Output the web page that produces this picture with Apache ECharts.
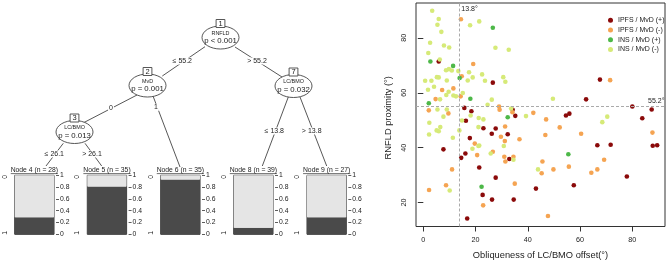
<!DOCTYPE html>
<html>
<head>
<meta charset="utf-8">
<style>
  html, body { margin: 0; padding: 0; background: #fff; }
  #main { width: 669px; height: 265px; }
</style>
</head>
<body>
<div id="main"></div>
<script src="https://cdn.jsdelivr.net/npm/echarts@6/dist/echarts.min.js"></script>
<script>
  // --- tree data ---
  var innerIds = [1, 2, 3, 7];
  var innerVars = ['RNFLD', 'MvD', 'LC/BMO', 'LC/BMO'];
  var innerP = ['p < 0.001', 'p = 0.001', 'p = 0.013', 'p = 0.032'];
  var edgeLabels = ['\u2264 55.2', '> 55.2', '0', '1', '\u2264 26.1', '> 26.1', '\u2264 13.8', '> 13.8'];
  var leafIds = [4, 5, 6, 8, 9];
  var leafN = [28, 35, 35, 39, 27];
  var leafProp1 = [0.29, 0.81, 0.93, 0.11, 0.29];

  // --- scatter data: [obliqueness, RNFLD proximity] ---
  var ipfsPos = [[5.9,71.4],[26.6,63.7],[62.3,57.6],[67.6,64.8],[80.0,55.0],[87.4,53.9],[15.7,54.5],[18.4,53.3],
    [34.2,53.8],[35.2,51.6],[54.6,51.7],[55.9,52.4],[83.8,50.7],[16.3,49.8],[23.0,47.1],[27.7,47.0],[26.2,45.1],
    [32.3,44.9],[17.8,43.5],[7.7,39.4],[16.1,37.9],[14.5,36.3],[32.9,35.9],[21.4,32.8],[27.7,29.1],[22.7,22.8],
    [26.3,21.1],[34.6,21.1],[16.8,14.2],[43.1,25.1],[57.6,26.3],[66.6,40.9],[71.7,41.1],[77.9,29.5],[87.8,40.7],[89.5,40.9]];
  var ipfsNeg = [[14.4,86.8],[19.1,70.5],[14.7,66.0],[11.5,61.6],[7.2,61.0],[14.3,58.7],[4.7,57.7],[71.5,64.6],
    [2.1,53.6],[9.6,52.5],[29.0,55.0],[29.2,53.8],[34.1,52.9],[42.1,52.7],[47.0,50.3],[31.3,47.7],[52.2,47.4],
    [19.7,41.5],[20.6,37.3],[26.6,38.5],[29.7,44.0],[31.2,42.4],[36.8,43.1],[31.0,36.7],[31.4,35.0],[34.5,36.7],
    [11.0,32.1],[8.7,26.3],[2.2,24.6],[22.9,19.0],[35.0,26.9],[47.7,15.1],[46.7,44.6],[45.6,35.0],[45.3,30.7],
    [49.8,32.1],[55.7,33.1],[60.4,45.1],[69.2,35.6],[66.6,32.1],[64.3,30.9],[87.7,45.5]];
  var insPos = [[26.6,83.7],[2.7,71.4],[11.4,69.8],[13.9,65.4],[2.1,56.2],[18.0,57.8],[32.3,51.1],[55.5,37.6],[22.3,25.8]];
  var insNeg = [[3.4,89.9],[5.9,86.9],[5.4,84.8],[6.9,82.2],[17.9,84.6],[21.4,86.0],[2.6,78.2],[7.9,77.2],[9.9,76.5],
    [1.9,74.5],[27.6,76.4],[32.7,75.7],[6.3,72.1],[9.8,68.6],[8.7,68.2],[10.9,68.1],[13.4,67.9],[17.5,67.5],[22.5,66.7],
    [5.2,65.7],[5.9,65.6],[18.9,65.6],[30.6,65.7],[0.7,64.4],[3.1,64.4],[9.0,64.5],[17.0,64.5],[23.6,64.4],[31.4,64.0],
    [4.1,62.2],[1.8,61.1],[9.7,60.4],[8.8,59.2],[11.5,59.0],[12.5,58.7],[15.1,59.9],[6.4,57.6],[26.2,57.5],[49.6,57.8],
    [5.4,53.9],[9.0,53.9],[18.1,51.7],[24.6,55.6],[33.6,54.3],[39.3,51.5],[68.5,49.3],[70.4,51.3],[23.0,50.3],[6.5,47.5],
    [21.1,47.5],[2.2,44.8],[5.1,46.3],[5.9,46.0],[11.3,43.6],[13.8,46.3],[21.4,40.8],[21.1,40.6],[18.8,39.6],[25.8,37.9],
    [30.8,40.6],[34.5,35.6],[10.1,24.4],[43.9,32.1],[2.3,49.1],[7.7,51.3],[14.8,49.9],[21.2,50.8]];
  var xTicks = [0, 20, 40, 60, 80];
  var yTicks = [20, 40, 60, 80];
  var cutX = 13.8, cutY = 55.2;

  // --- layout of the tree (pixels) ---
  var innerPos = [[220.5, 37.5], [147.5, 85.5], [74.5, 132], [293.5, 86]];
  var edgeLines = [[205, 46.7, 162.3, 76], [235, 47, 282, 77], [137, 95, 83, 123], [153, 96, 180, 167],
    [63.3, 143.3, 46, 166], [85, 143.3, 101.7, 166], [288.3, 97, 262.3, 166], [300, 97, 326.7, 166]];
  var edgeLabelPos = [[182.3, 61], [257, 61], [111, 107.7], [156, 107.3], [54.3, 154], [92, 154], [274.3, 131], [311.7, 131]];
  var leafLeft = [14.7, 87.3, 160.7, 233.7, 307];
  var leafW = 39.3, leafTop = 175.3, leafH = 59;

  var FONT = '"Liberation Sans", Arial, sans-serif';
  var LINE = '#444';
  var DARK = '#4a4a4a', LIGHT = '#e5e5e5';

  var chart = echarts.init(document.getElementById('main'), null, { renderer: 'canvas' });

  function txt(x, y, s, size, extra) {
    var st = { x: x, y: y, text: s, font: size + 'px ' + FONT, fill: '#222',
      align: 'center', verticalAlign: 'middle', textAlign: 'center', textVerticalAlign: 'middle' };
    for (var k in extra) st[k] = extra[k];
    return { type: 'text', z: 5, style: st };
  }

  var graphics = [];
  edgeLines.forEach(function (e) {
    graphics.push({ type: 'line', z: 1, shape: { x1: e[0], y1: e[1], x2: e[2], y2: e[3] },
      style: { stroke: LINE, lineWidth: 0.9 } });
  });
  edgeLabels.forEach(function (s, i) {
    graphics.push(txt(edgeLabelPos[i][0], edgeLabelPos[i][1], s, 7,
      { backgroundColor: '#fff', padding: [0, 1] }));
  });
  innerIds.forEach(function (id, i) {
    var c = innerPos[i];
    graphics.push({ type: 'ellipse', z: 3, shape: { cx: c[0], cy: c[1], rx: 18.5, ry: 11.5 },
      style: { fill: '#fff', stroke: LINE, lineWidth: 0.9 } });
    graphics.push({ type: 'rect', z: 4, shape: { x: c[0] - 4.4, y: c[1] - 18, width: 8.8, height: 8 },
      style: { fill: '#fff', stroke: LINE, lineWidth: 0.9 } });
    graphics.push(txt(c[0], c[1] - 14, String(id), 7.5));
    graphics.push(txt(c[0], c[1] - 4, innerVars[i], 5.4));
    graphics.push(txt(c[0], c[1] + 3.7, innerP[i], 7.8));
  });
  leafIds.forEach(function (id, i) {
    var cx = leafLeft[i] + leafW / 2;
    graphics.push(txt(cx, 170.3, 'Node ' + id + ' (n = ' + leafN[i] + ')', 6.8));
    graphics.push({ type: 'line', z: 5, shape: { x1: cx - 23.6, y1: 173.6, x2: cx + 23.6, y2: 173.6 },
      style: { stroke: '#333', lineWidth: 0.7 } });
    graphics.push(txt(leafLeft[i] - 10, leafTop + 1.5, '0', 6.8, { rotation: Math.PI / 2 }));
    graphics.push(txt(leafLeft[i] - 10, leafTop + leafH - 1.5, '1', 6.8, { rotation: Math.PI / 2 }));
  });
  // rotation needs to be on the element, not the style
  graphics.forEach(function (g) {
    if (g.style && g.style.rotation) {
      g.rotation = g.style.rotation; g.x = g.style.x; g.y = g.style.y;
      g.style.x = 0; g.style.y = 0; delete g.style.rotation;
    }
  });

  var grids = [], xAxes = [], yAxes = [], series = [];
  leafIds.forEach(function (id, i) {
    grids.push({ left: leafLeft[i], top: leafTop, width: leafW, height: leafH,
      show: true, borderColor: '#333', borderWidth: 1, backgroundColor: 'transparent' });
    xAxes.push({ type: 'category', gridIndex: i, data: ['n' + id], show: false });
    yAxes.push({ type: 'value', gridIndex: i, position: 'right', offset: 2, min: 0, max: 1, interval: 0.2,
      splitLine: { show: false }, axisLine: { show: false },
      axisTick: { show: true, length: 3, lineStyle: { color: '#333', width: 0.8 } },
      axisLabel: { fontSize: 6.8, fontFamily: FONT, color: '#222', margin: 4 } });
    series.push({ type: 'bar', xAxisIndex: i, yAxisIndex: i, stack: 'leaf' + i, barWidth: '100%',
      data: [leafProp1[i]], itemStyle: { color: DARK }, silent: true });
    series.push({ type: 'bar', xAxisIndex: i, yAxisIndex: i, stack: 'leaf' + i, barWidth: '100%',
      data: [1 - leafProp1[i]], itemStyle: { color: LIGHT }, silent: true });
  });

  // scatter panel
  grids.push({ left: 416, top: 3, right: 4, bottom: 37.7, show: true, borderColor: '#333', borderWidth: 1 });
  xAxes.push({ type: 'value', gridIndex: 5, min: -2.8, max: 92.5,
    name: 'Obliqueness of LC/BMO offset(\u00b0)', nameLocation: 'middle', nameGap: 24.5,
    nameTextStyle: { fontSize: 9.3, fontFamily: FONT, color: '#222' },
    splitLine: { show: false }, axisLine: { show: false },
    axisTick: { show: true, length: 5, customValues: xTicks, lineStyle: { color: '#333' } },
    axisLabel: { customValues: xTicks, fontSize: 7.2, fontFamily: FONT, color: '#222', margin: 10 } });
  yAxes.push({ type: 'value', gridIndex: 5, min: 11.3, max: 92.7,
    name: 'RNFLD proximity (\u00b0)', nameLocation: 'middle', nameGap: 23,
    nameTextStyle: { fontSize: 9.3, fontFamily: FONT, color: '#222', padding: [0, 6, 0, 0] },
    splitLine: { show: false }, axisLine: { show: false },
    axisTick: { show: true, length: 5.5, customValues: yTicks, lineStyle: { color: '#333' } },
    axisLabel: { customValues: yTicks, rotate: 90, fontSize: 7.2, fontFamily: FONT, color: '#222', margin: 8 } });

  var groups = [
    ['IPFS / MvD (+)', ipfsPos, '#8b0a0a'],
    ['IPFS / MvD (-)', ipfsNeg, '#f5a452'],
    ['INS / MvD (+)', insPos, '#4db848'],
    ['INS / MvD (-)', insNeg, '#d6ea78']
  ];
  groups.forEach(function (g, k) {
    var s = { type: 'scatter', name: g[0], xAxisIndex: 5, yAxisIndex: 5, data: g[1],
      symbolSize: 4.6, itemStyle: { color: g[2], opacity: 1 }, silent: true };
    if (k === 0) {
      s.markLine = { silent: true, symbol: 'none', label: { show: false },
        lineStyle: { color: '#aaa', type: [3, 2], width: 1 },
        data: [{ xAxis: cutX }, { yAxis: cutY }] };
      s.markPoint = { silent: true, symbolSize: 0, itemStyle: { color: 'transparent' },
        data: [
          { coord: [cutX, 90.5], label: { show: true, position: 'right', distance: 2, formatter: cutX + '\u00b0',
            fontSize: 7, fontFamily: FONT, color: '#222' } },
          { coord: [92.3, cutY], label: { show: true, position: 'left', distance: 0, offset: [0, -5],
            formatter: cutY + '\u00b0', fontSize: 7, fontFamily: FONT, color: '#222' } }
        ] };
    }
    series.push(s);
  });

  chart.setOption({
    animation: false,
    grid: grids,
    xAxis: xAxes,
    yAxis: yAxes,
    legend: {
      data: groups.map(function (g) { return g[0]; }),
      orient: 'vertical', left: 603, top: 11.3, itemWidth: 5, itemHeight: 5, itemGap: 1.7, icon: 'circle',
      textStyle: { fontSize: 7, fontFamily: FONT, color: '#222', lineHeight: 8 }
    },
    series: series,
    graphic: { elements: graphics }
  });
</script>
</body>
</html>
